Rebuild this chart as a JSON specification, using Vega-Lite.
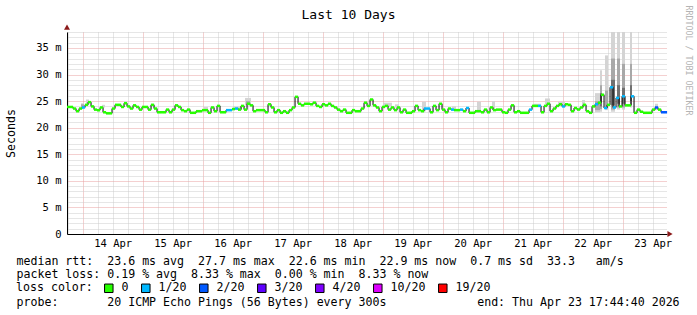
{
  "$schema": "https://vega.github.io/schema/vega-lite/v6.json",
  "width": 600,
  "height": 202,
  "autosize": {"type": "none"},
  "padding": {"left": 67, "top": 32, "right": 30, "bottom": 81},
  "background": "white",
  "config": {"view": {"stroke": null}, "font": "DejaVu Sans Mono"},
  "datasets": {
    "median": [
      {"d":13.765,"m":23.9,"l":"0"},{"d":13.815,"m":23.9,"l":"0"},{"d":13.865,"m":23.6,"l":"0"},{"d":13.915,"m":23.1,"l":"0"},{"d":13.965,"m":23.6,"l":"0"},
      {"d":14.015,"m":23.8,"l":"1/20"},{"d":14.065,"m":24.3,"l":"0"},{"d":14.115,"m":24.8,"l":"0"},{"d":14.165,"m":24.0,"l":"0"},{"d":14.215,"m":23.4,"l":"0"},
      {"d":14.265,"m":23.3,"l":"0"},{"d":14.315,"m":23.8,"l":"0"},{"d":14.365,"m":22.9,"l":"0"},{"d":14.415,"m":22.7,"l":"0"},{"d":14.465,"m":22.7,"l":"0"},
      {"d":14.515,"m":23.6,"l":"0"},{"d":14.565,"m":24.3,"l":"0"},{"d":14.615,"m":24.3,"l":"0"},{"d":14.665,"m":23.9,"l":"0"},{"d":14.715,"m":24.6,"l":"0"},
      {"d":14.765,"m":24.0,"l":"0"},{"d":14.815,"m":23.6,"l":"0"},{"d":14.865,"m":24.2,"l":"0"},{"d":14.915,"m":23.9,"l":"0"},{"d":14.965,"m":23.4,"l":"0"},
      {"d":15.015,"m":23.9,"l":"0"},{"d":15.065,"m":23.9,"l":"0"},{"d":15.115,"m":23.4,"l":"0"},{"d":15.165,"m":24.3,"l":"0"},{"d":15.215,"m":23.6,"l":"0"},
      {"d":15.265,"m":22.9,"l":"0"},{"d":15.315,"m":22.9,"l":"0"},{"d":15.365,"m":22.9,"l":"0"},{"d":15.415,"m":23.4,"l":"0"},{"d":15.465,"m":22.9,"l":"0"},
      {"d":15.515,"m":23.4,"l":"0"},{"d":15.565,"m":24.2,"l":"0"},{"d":15.615,"m":23.9,"l":"0"},{"d":15.665,"m":23.3,"l":"0"},{"d":15.715,"m":23.1,"l":"0"},
      {"d":15.765,"m":23.4,"l":"0"},{"d":15.815,"m":22.8,"l":"0"},{"d":15.865,"m":22.8,"l":"0"},{"d":15.915,"m":23.1,"l":"0"},{"d":15.965,"m":23.1,"l":"0"},
      {"d":16.015,"m":23.3,"l":"0"},{"d":16.065,"m":23.3,"l":"0"},{"d":16.115,"m":22.8,"l":"0"},{"d":16.165,"m":23.8,"l":"0"},{"d":16.215,"m":23.1,"l":"0"},
      {"d":16.265,"m":24.1,"l":"0"},{"d":16.315,"m":22.9,"l":"0"},{"d":16.365,"m":22.9,"l":"0"},{"d":16.415,"m":23.3,"l":"1/20"},{"d":16.465,"m":23.3,"l":"1/20"},
      {"d":16.515,"m":23.5,"l":"0"},{"d":16.565,"m":23.6,"l":"1/20"},{"d":16.615,"m":23.4,"l":"0"},{"d":16.665,"m":24.1,"l":"0"},{"d":16.715,"m":23.4,"l":"0"},
      {"d":16.765,"m":24.5,"l":"0"},{"d":16.815,"m":24.2,"l":"0"},{"d":16.865,"m":23.1,"l":"0"},{"d":16.915,"m":23.3,"l":"0"},{"d":16.965,"m":23.3,"l":"0"},
      {"d":17.015,"m":23.3,"l":"0"},{"d":17.065,"m":22.9,"l":"0"},{"d":17.115,"m":24.4,"l":"0"},{"d":17.165,"m":23.8,"l":"0"},{"d":17.215,"m":22.9,"l":"0"},
      {"d":17.265,"m":23.3,"l":"0"},{"d":17.315,"m":22.8,"l":"0"},{"d":17.365,"m":23.1,"l":"0"},{"d":17.415,"m":22.8,"l":"0"},{"d":17.465,"m":23.3,"l":"0"},
      {"d":17.515,"m":23.8,"l":"0"},{"d":17.565,"m":25.8,"l":"0"},{"d":17.615,"m":24.5,"l":"0"},{"d":17.665,"m":24.2,"l":"0"},{"d":17.715,"m":24.5,"l":"0"},
      {"d":17.765,"m":24.5,"l":"0"},{"d":17.815,"m":24.4,"l":"0"},{"d":17.865,"m":24.7,"l":"0"},{"d":17.915,"m":24.1,"l":"0"},{"d":17.965,"m":23.9,"l":"0"},
      {"d":18.015,"m":24.4,"l":"0"},{"d":18.065,"m":24.2,"l":"0"},{"d":18.115,"m":24.5,"l":"0"},{"d":18.165,"m":24.1,"l":"0"},{"d":18.215,"m":23.8,"l":"0"},
      {"d":18.265,"m":23.4,"l":"0"},{"d":18.315,"m":23.1,"l":"0"},{"d":18.365,"m":23.4,"l":"0"},{"d":18.415,"m":22.8,"l":"0"},{"d":18.465,"m":22.8,"l":"0"},
      {"d":18.515,"m":23.3,"l":"0"},{"d":18.565,"m":23.1,"l":"0"},{"d":18.615,"m":23.1,"l":"0"},{"d":18.665,"m":23.6,"l":"0"},{"d":18.715,"m":24.7,"l":"0"},
      {"d":18.765,"m":24.1,"l":"0"},{"d":18.815,"m":25.3,"l":"0"},{"d":18.865,"m":24.2,"l":"0"},{"d":18.915,"m":23.8,"l":"0"},{"d":18.965,"m":23.1,"l":"0"},
      {"d":19.015,"m":23.9,"l":"0"},{"d":19.065,"m":24.1,"l":"0"},{"d":19.115,"m":23.4,"l":"0"},{"d":19.165,"m":23.8,"l":"0"},{"d":19.215,"m":23.3,"l":"0"},
      {"d":19.265,"m":23.8,"l":"0"},{"d":19.315,"m":22.9,"l":"0"},{"d":19.365,"m":23.4,"l":"0"},{"d":19.415,"m":22.8,"l":"0"},{"d":19.465,"m":22.8,"l":"0"},
      {"d":19.515,"m":23.1,"l":"0"},{"d":19.565,"m":24.1,"l":"0"},{"d":19.615,"m":23.3,"l":"0"},{"d":19.665,"m":23.1,"l":"0"},{"d":19.715,"m":23.6,"l":"1/20"},
      {"d":19.765,"m":23.6,"l":"1/20"},{"d":19.815,"m":22.9,"l":"0"},{"d":19.865,"m":24.1,"l":"0"},{"d":19.915,"m":23.3,"l":"0"},{"d":19.965,"m":24.5,"l":"0"},
      {"d":20.015,"m":23.4,"l":"0"},{"d":20.065,"m":22.9,"l":"0"},{"d":20.115,"m":23.6,"l":"0"},{"d":20.165,"m":23.4,"l":"1/20"},{"d":20.215,"m":23.3,"l":"0"},
      {"d":20.265,"m":23.3,"l":"0"},{"d":20.315,"m":23.4,"l":"1/20"},{"d":20.365,"m":23.1,"l":"0"},{"d":20.415,"m":23.7,"l":"1/20"},{"d":20.465,"m":22.8,"l":"0"},
      {"d":20.515,"m":22.8,"l":"0"},{"d":20.565,"m":23.1,"l":"0"},{"d":20.615,"m":23.1,"l":"0"},{"d":20.665,"m":22.9,"l":"0"},{"d":20.715,"m":23.4,"l":"0"},
      {"d":20.765,"m":22.9,"l":"0"},{"d":20.815,"m":23.8,"l":"0"},{"d":20.865,"m":23.3,"l":"0"},{"d":20.915,"m":23.4,"l":"0"},{"d":20.965,"m":23.4,"l":"0"},
      {"d":21.015,"m":22.9,"l":"0"},{"d":21.065,"m":22.8,"l":"0"},{"d":21.115,"m":23.4,"l":"0"},{"d":21.165,"m":24.2,"l":"0"},{"d":21.215,"m":22.9,"l":"0"},
      {"d":21.265,"m":23.1,"l":"0"},{"d":21.315,"m":22.8,"l":"0"},{"d":21.365,"m":22.8,"l":"0"},{"d":21.415,"m":22.8,"l":"0"},{"d":21.465,"m":23.4,"l":"1/20"},
      {"d":21.515,"m":24.1,"l":"0"},{"d":21.565,"m":24.1,"l":"0"},{"d":21.615,"m":24.1,"l":"1/20"},{"d":21.665,"m":22.9,"l":"0"},{"d":21.715,"m":24.1,"l":"0"},
      {"d":21.765,"m":24.5,"l":"0"},{"d":21.815,"m":23.1,"l":"0"},{"d":21.865,"m":23.6,"l":"0"},{"d":21.915,"m":24.1,"l":"0"},{"d":21.965,"m":24.4,"l":"0"},
      {"d":22.015,"m":24.0,"l":"1/20"},{"d":22.065,"m":24.4,"l":"0"},{"d":22.115,"m":24.3,"l":"0"},{"d":22.165,"m":23.1,"l":"0"},{"d":22.215,"m":23.7,"l":"0"},
      {"d":22.265,"m":23.4,"l":"0"},{"d":22.315,"m":23.8,"l":"0"},{"d":22.365,"m":24.3,"l":"0"},{"d":22.415,"m":23.1,"l":"0"},{"d":22.465,"m":22.8,"l":"0"},
      {"d":22.515,"m":24.0,"l":"0"},{"d":22.565,"m":24.4,"l":"1/20"},{"d":22.615,"m":24.7,"l":"0"},{"d":22.665,"m":26.2,"l":"0"},{"d":22.715,"m":23.7,"l":"1/20"},
      {"d":22.765,"m":24.3,"l":"0"},{"d":22.815,"m":27.6,"l":"1/20"},{"d":22.865,"m":23.8,"l":"1/20"},{"d":22.915,"m":25.6,"l":"1/20"},{"d":22.965,"m":24.0,"l":"0"},
      {"d":23.015,"m":25.9,"l":"1/20"},{"d":23.065,"m":24.2,"l":"0"},{"d":23.115,"m":24.2,"l":"0"},{"d":23.165,"m":25.9,"l":"1/20"},{"d":23.215,"m":22.8,"l":"0"},
      {"d":23.265,"m":23.4,"l":"0"},{"d":23.315,"m":23.0,"l":"0"},{"d":23.365,"m":22.8,"l":"0"},{"d":23.415,"m":22.8,"l":"0"},{"d":23.465,"m":22.8,"l":"0"},
      {"d":23.515,"m":23.4,"l":"0"},{"d":23.565,"m":23.8,"l":"2/20"},{"d":23.615,"m":23.4,"l":"0"},{"d":23.665,"m":22.9,"l":"2/20"},{"d":23.715,"m":22.9,"l":"2/20"}
    ],
    "smoke": [
      {"s":13.973,"e":14.023,"lo":23.6,"hi":24.6,"k":"light"},
      {"s":14.056,"e":14.106,"lo":24.5,"hi":25.3,"k":"light"},
      {"s":14.323,"e":14.373,"lo":23.8,"hi":24.3,"k":"light"},
      {"s":14.689,"e":14.739,"lo":24.4,"hi":25.0,"k":"light"},
      {"s":16.022,"e":16.089,"lo":23.3,"hi":23.9,"k":"light"},
      {"s":16.506,"e":16.656,"lo":23.4,"hi":24.0,"k":"light"},
      {"s":16.706,"e":16.806,"lo":24.2,"hi":25.6,"k":"light"},
      {"s":17.823,"e":17.889,"lo":24.5,"hi":25.0,"k":"light"},
      {"s":19.006,"e":19.156,"lo":24.0,"hi":24.7,"k":"light"},
      {"s":19.206,"e":19.273,"lo":23.8,"hi":24.4,"k":"light"},
      {"s":19.656,"e":19.723,"lo":23.1,"hi":24.9,"k":"light"},
      {"s":20.156,"e":20.223,"lo":23.3,"hi":24.0,"k":"light"},
      {"s":20.573,"e":20.639,"lo":23.2,"hi":24.9,"k":"light"},
      {"s":20.823,"e":20.873,"lo":23.4,"hi":25.0,"k":"light"},
      {"s":21.506,"e":21.639,"lo":23.9,"hi":24.5,"k":"light"},
      {"s":21.706,"e":21.789,"lo":24.4,"hi":25.5,"k":"light"},
      {"s":21.923,"e":22.039,"lo":24.2,"hi":24.9,"k":"light"},
      {"s":22.323,"e":22.373,"lo":24.0,"hi":25.2,"k":"light"},
      {"s":22.539,"e":22.623,"lo":22.9,"hi":26.5,"k":"light"},
      {"s":22.623,"e":22.656,"lo":23.0,"hi":30.8,"k":"light"},
      {"s":22.706,"e":22.756,"lo":23.3,"hi":33.6,"k":"light"},
      {"s":22.806,"e":22.873,"lo":23.0,"hi":40,"k":"light"},
      {"s":22.906,"e":22.956,"lo":23.4,"hi":40,"k":"light"},
      {"s":22.989,"e":23.039,"lo":23.4,"hi":40,"k":"light"},
      {"s":23.123,"e":23.156,"lo":23.8,"hi":40,"k":"light"},
      {"s":23.539,"e":23.589,"lo":23.3,"hi":24.5,"k":"light"},
      {"s":13.973,"e":14.023,"lo":23.8,"hi":24.4,"k":"mid"},
      {"s":16.723,"e":16.789,"lo":24.4,"hi":25.0,"k":"mid"},
      {"s":22.539,"e":22.623,"lo":23.3,"hi":25.0,"k":"mid"},
      {"s":22.623,"e":22.656,"lo":23.5,"hi":28.0,"k":"mid"},
      {"s":22.706,"e":22.756,"lo":23.6,"hi":27.0,"k":"mid"},
      {"s":22.806,"e":22.873,"lo":23.4,"hi":33.0,"k":"mid"},
      {"s":22.906,"e":22.956,"lo":23.8,"hi":33.0,"k":"mid"},
      {"s":22.989,"e":23.039,"lo":23.8,"hi":32.0,"k":"mid"},
      {"s":23.123,"e":23.156,"lo":24.2,"hi":32.0,"k":"mid"},
      {"s":22.623,"e":22.656,"lo":24.0,"hi":26.5,"k":"dark"},
      {"s":22.806,"e":22.873,"lo":24.2,"hi":29.0,"k":"dark"},
      {"s":22.906,"e":22.956,"lo":24.5,"hi":28.0,"k":"dark"},
      {"s":22.989,"e":23.039,"lo":24.5,"hi":27.5,"k":"dark"},
      {"s":23.123,"e":23.156,"lo":25.0,"hi":28.0,"k":"dark"}
    ],
    "arrows": [
      {"a":"up","d":13.7393,"v":38.9},
      {"a":"right","d":23.79,"v":0}
    ]
  },
  "resolve": {"axis": {"x": "independent", "y": "independent"}},
  "layer": [
    {
      "data": {"name": "smoke"},
      "mark": {"type": "rect", "clip": true},
      "encoding": {
        "x": {"field": "s", "type": "quantitative", "scale": {"domain": [13.7393, 23.7393], "nice": false, "zero": false},
          "axis": {"orient": "bottom", "values": [13.75,14.25,14.5,14.75,15.25,15.5,15.75,16.25,16.5,16.75,17.25,17.5,17.75,18.25,18.5,18.75,19.25,19.5,19.75,20.25,20.5,20.75,21.25,21.5,21.75,22.25,22.5,22.75,23.25,23.5],
            "grid": true, "gridColor": "#cccccc", "gridDash": [1, 1], "gridWidth": 1, "labels": false, "ticks": false, "domain": false,
            "title": "probe:\u00a0\u00a0\u00a0\u00a0\u00a0\u00a0\u00a020\u00a0ICMP\u00a0Echo\u00a0Pings\u00a0(56\u00a0Bytes)\u00a0every\u00a0300s\u00a0\u00a0\u00a0\u00a0\u00a0\u00a0\u00a0\u00a0\u00a0\u00a0\u00a0\u00a0\u00a0end:\u00a0Thu\u00a0Apr\u00a023\u00a017:44:40\u00a02026",
            "titleFont": "DejaVu Sans Mono", "titleFontSize": 11.6, "titleFontWeight": "normal", "titleColor": "black",
            "titleAnchor": "start", "titleAlign": "left", "titleBaseline": "alphabetic", "titleX": -51, "titleY": 71.7, "titleLimit": 2000}},
        "x2": {"field": "e"},
        "y": {"field": "lo", "type": "quantitative", "scale": {"domain": [0, 38], "nice": false, "zero": false},
          "axis": {"orient": "left", "values": [1,2,3,4,6,7,8,9,11,12,13,14,16,17,18,19,21,22,23,24,26,27,28,29,31,32,33,34,36,37,38],
            "grid": true, "gridColor": "#cccccc", "gridDash": [1, 1], "gridWidth": 1, "labels": false, "ticks": false, "domain": false, "title": null}},
        "y2": {"field": "hi"},
        "fill": {"field": "k", "type": "nominal", "scale": {"domain": ["light", "mid", "dark"], "range": ["#d4d4d4", "#a8a8a8", "#707070"]}, "legend": null}
      }
    },
    {
      "data": {"name": "median"},
      "mark": {"type": "line", "interpolate": "step", "color": "black", "strokeWidth": 1},
      "encoding": {
        "x": {"field": "d", "type": "quantitative", "scale": {"domain": [13.7393, 23.7393], "nice": false, "zero": false},
          "axis": {"orient": "bottom", "values": [14,15,16,17,18,19,20,21,22,23], "grid": true, "gridColor": "#e8a0a0", "gridDash": [1, 1], "gridWidth": 1, "labels": false, "ticks": false, "domain": false,
            "title": ["median\u00a0rtt:\u00a0\u00a023.6\u00a0ms\u00a0avg\u00a0\u00a027.7\u00a0ms\u00a0max\u00a0\u00a022.6\u00a0ms\u00a0min\u00a0\u00a022.9\u00a0ms\u00a0now\u00a0\u00a00.7\u00a0ms\u00a0sd\u00a0\u00a033.3\u00a0\u00a0\u00a0am/s",
                      "packet\u00a0loss:\u00a00.19\u00a0%\u00a0avg\u00a0\u00a08.33\u00a0%\u00a0max\u00a0\u00a00.00\u00a0%\u00a0min\u00a0\u00a08.33\u00a0%\u00a0now"],
            "titleFont": "DejaVu Sans Mono", "titleFontSize": 11.6, "titleFontWeight": "normal", "titleColor": "black",
            "titleAnchor": "start", "titleAlign": "left", "titleBaseline": "alphabetic", "titleX": -51, "titleY": 30, "titleLineHeight": 13.9, "titleLimit": 2000}},
        "y": {"field": "m", "type": "quantitative", "scale": {"domain": [0, 38], "nice": false, "zero": false},
          "axis": {"orient": "left", "values": [5,10,15,20,25,30,35], "grid": true, "gridColor": "#e8a0a0", "gridDash": [1, 1], "gridWidth": 1, "labels": false, "ticks": false, "domain": false, "title": null}}
      }
    },
    {
      "data": {"name": "median"},
      "mark": {"type": "tick", "orient": "horizontal", "size": 3.1, "thickness": 2.5, "opacity": 1},
      "encoding": {
        "x": {"field": "d", "type": "quantitative", "scale": {"domain": [13.7393, 23.7393], "nice": false, "zero": false},
          "axis": {"orient": "bottom", "values": [14.5,15.5,16.5,17.5,18.5,19.5,20.5,21.5,22.5,23.5],
            "labelExpr": "floor(datum.value) + ' Apr'", "grid": false, "ticks": false, "domain": true, "domainColor": "black", "domainWidth": 1,
            "labelFont": "DejaVu Sans Mono", "labelFontSize": 10.5, "labelColor": "black", "labelPadding": 4, "labelFlush": false, "labelOverlap": false,
            "title": null}},
        "y": {"field": "m", "type": "quantitative", "scale": {"domain": [0, 38], "nice": false, "zero": false},
          "axis": {"orient": "left", "values": [0,5,10,15,20,25,30,35], "labelExpr": "datum.value == 0 ? '0' : datum.value + ' m'",
            "grid": false, "ticks": false, "domain": true, "domainColor": "black", "domainWidth": 1,
            "labelFont": "DejaVu Sans Mono", "labelFontSize": 10.5, "labelColor": "black", "labelPadding": 6, "labelFlush": false, "labelOverlap": false,
            "title": "Seconds", "titleFont": "DejaVu Sans Mono", "titleFontSize": 11.6, "titleFontWeight": "normal", "titleColor": "black",
            "titleX": -56, "titleBaseline": "middle", "titleAlign": "center"}},
        "color": {"field": "l", "type": "nominal",
          "scale": {"domain": ["0", "1/20", "2/20", "3/20", "4/20", "10/20", "19/20"], "range": ["#26ff00", "#00b8ff", "#0059ff", "#5e00ff", "#7e00ff", "#dd00ff", "#ff0000"]},
          "legend": {"orient": "none", "legendX": -51, "legendY": 250, "direction": "horizontal", "title": "loss color:", "titleOrient": "left",
            "titleFont": "DejaVu Sans Mono", "titleFontSize": 11.6, "titleFontWeight": "normal", "titleColor": "black", "titlePadding": 10,
            "labelFont": "DejaVu Sans Mono", "labelFontSize": 11.6, "labelColor": "black", "labelOffset": 7, "columnPadding": 10,
            "symbolType": "square", "symbolSize": 72, "symbolStrokeColor": "black", "symbolStrokeWidth": 1, "symbolOpacity": 1, "padding": 0}}
      }
    },
    {
      "data": {"name": "arrows"},
      "mark": {"type": "point", "filled": true, "opacity": 1, "clip": false},
      "encoding": {
        "x": {"field": "d", "type": "quantitative", "scale": {"domain": [13.7393, 23.7393], "nice": false, "zero": false},
          "axis": {"orient": "top", "labels": false, "ticks": false, "domain": false, "grid": false,
            "title": "Last 10 Days", "titleX": 281, "titleY": -13.5, "titleAlign": "center", "titleAnchor": "start", "titleBaseline": "alphabetic",
            "titleFont": "DejaVu Sans Mono", "titleFontSize": 13, "titleFontWeight": "normal", "titleColor": "black"}},
        "y": {"field": "v", "type": "quantitative", "scale": {"domain": [0, 38], "nice": false, "zero": false},
          "axis": {"orient": "right", "labels": false, "ticks": false, "domain": false, "grid": false,
            "title": "RRDTOOL / TOBI OETIKER", "titleAngle": 90, "titleX": 20, "titleY": 28, "titleAlign": "center", "titleBaseline": "middle",
            "titleFont": "DejaVu Sans Mono", "titleFontSize": 8.3, "titleFontWeight": "normal", "titleColor": "#b4b4b4"}},
        "shape": {"field": "a", "type": "nominal", "scale": {"domain": ["up", "right"], "range": ["triangle-up", "triangle-right"]}, "legend": null},
        "color": {"value": "#8b1a1a"},
        "size": {"value": 36}
      }
    }
  ]
}
